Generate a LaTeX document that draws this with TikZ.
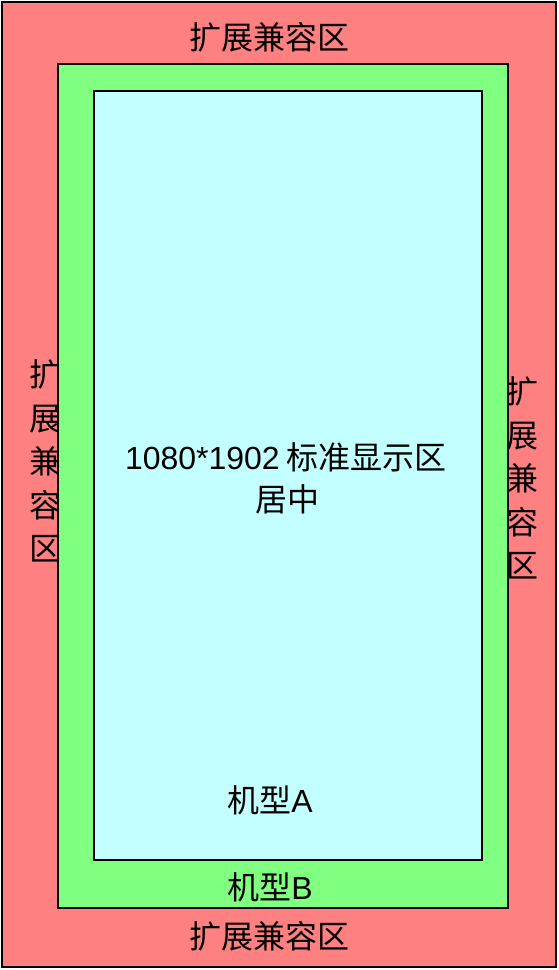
\documentclass[tikz,border=0pt]{standalone}
\usepackage{fontspec}
\setmainfont{Liberation Sans}
\newfontfamily\cjk{Noto Sans CJK SC}
\usepackage{xcolor}
\usepackage{tikz}
\usetikzlibrary{positioning}
\definecolor{zone-red}{HTML}{FF8080}
\definecolor{zone-green}{HTML}{80FF80}
\definecolor{zone-cyan}{HTML}{C4FFFF}
\tikzset{
  every picture/.style = {
    x = 1pt,
    y = -1pt,
    line width = 2.2pt
  }
  , % the nested screen areas
  zone/.style = {
    rectangle,
    draw,
    anchor = north west,
    inner sep = 0pt,
    outer sep = 0pt
  }
  , % labels of areas
  label-zone/.style = {
    font = \fontsize{32}{43.5}\selectfont\cjk,
    inner sep = 0pt
  }
  , % labels written top to bottom
  label-side/.style = {
    label-zone,
    align = center,
    text width = 34pt
  }
}

\begin{document}
\begin{tikzpicture}
    \useasboundingbox (0,0) rectangle (558,970);
    \node [zone, fill=zone-red, minimum width=554pt, minimum height=965pt] (outer) at (2,2) {};
    \node [label-side] (left) at (45,461) {扩\\展\\兼\\容\\区};
    \node [label-side] (right) at (522,478) {扩\\展\\兼\\容\\区};
    \node [zone, fill=zone-green, minimum width=450pt, minimum height=844pt] (phoneB) at (58,64) {};
    \node [zone, fill=zone-cyan, minimum width=388pt, minimum height=769pt] (phoneA) at (94,91) {};

    \node [label-zone] (top) at (269,37) {扩展兼容区};
    \node [label-zone] (bottom) at (269,936) {扩展兼容区};
    \node [label-zone] (std) at (286,457) {{\rmfamily 1080*1902} 标准显示区};
    \node [label-zone] (mid) at (287,499) {居中};
    \node [label-zone] (nameA) at (270,800) {机型{\rmfamily A}};
    \node [label-zone] (nameB) at (270,887) {机型{\rmfamily B}};
\end{tikzpicture}
\end{document}
